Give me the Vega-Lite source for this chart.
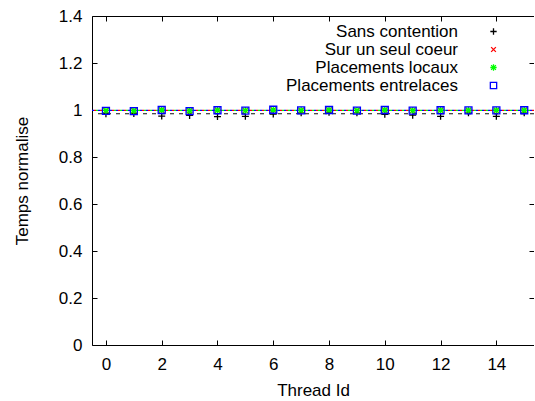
{
  "$schema": "https://vega.github.io/schema/vega-lite/v6.json",
  "width": 442,
  "height": 329,
  "autosize": {"type": "none"},
  "padding": {"left": 92, "top": 16, "right": 0, "bottom": 56},
  "background": "white",
  "config": {
    "font": "Liberation Sans",
    "view": {"stroke": "black", "strokeWidth": 1},
    "axis": {
      "grid": false,
      "domain": false,
      "tickColor": "black",
      "tickSize": -5,
      "tickWidth": 1,
      "labelColor": "black",
      "labelFontSize": 17,
      "titleFontSize": 17,
      "titleFontWeight": "normal",
      "titleColor": "black"
    },
    "legend": {
      "labelFontSize": 17,
      "labelColor": "black",
      "labelAlign": "right",
      "labelOffset": -44,
      "labelLimit": 400,
      "rowPadding": 0,
      "symbolSize": 40,
      "symbolStrokeWidth": 1.3
    }
  },
  "datasets": {
    "pts": [
      {"t": 0, "serie": "Sans contention", "v": 0.984},
      {"t": 1, "serie": "Sans contention", "v": 0.985},
      {"t": 2, "serie": "Sans contention", "v": 0.974},
      {"t": 3, "serie": "Sans contention", "v": 0.977},
      {"t": 4, "serie": "Sans contention", "v": 0.972},
      {"t": 5, "serie": "Sans contention", "v": 0.973},
      {"t": 6, "serie": "Sans contention", "v": 0.983},
      {"t": 7, "serie": "Sans contention", "v": 0.988},
      {"t": 8, "serie": "Sans contention", "v": 0.99},
      {"t": 9, "serie": "Sans contention", "v": 0.988},
      {"t": 10, "serie": "Sans contention", "v": 0.982},
      {"t": 11, "serie": "Sans contention", "v": 0.978},
      {"t": 12, "serie": "Sans contention", "v": 0.973},
      {"t": 13, "serie": "Sans contention", "v": 0.988},
      {"t": 14, "serie": "Sans contention", "v": 0.973},
      {"t": 15, "serie": "Sans contention", "v": 0.988},
      {"t": 0, "serie": "Sur un seul coeur", "v": 0.998},
      {"t": 1, "serie": "Sur un seul coeur", "v": 0.997},
      {"t": 2, "serie": "Sur un seul coeur", "v": 0.999},
      {"t": 3, "serie": "Sur un seul coeur", "v": 0.997},
      {"t": 4, "serie": "Sur un seul coeur", "v": 0.999},
      {"t": 5, "serie": "Sur un seul coeur", "v": 0.998},
      {"t": 6, "serie": "Sur un seul coeur", "v": 1.0},
      {"t": 7, "serie": "Sur un seul coeur", "v": 0.998},
      {"t": 8, "serie": "Sur un seul coeur", "v": 0.999},
      {"t": 9, "serie": "Sur un seul coeur", "v": 0.998},
      {"t": 10, "serie": "Sur un seul coeur", "v": 0.999},
      {"t": 11, "serie": "Sur un seul coeur", "v": 0.998},
      {"t": 12, "serie": "Sur un seul coeur", "v": 0.999},
      {"t": 13, "serie": "Sur un seul coeur", "v": 0.998},
      {"t": 14, "serie": "Sur un seul coeur", "v": 0.998},
      {"t": 15, "serie": "Sur un seul coeur", "v": 0.999},
      {"t": 0, "serie": "Placements locaux", "v": 0.998},
      {"t": 1, "serie": "Placements locaux", "v": 0.997},
      {"t": 2, "serie": "Placements locaux", "v": 1.0},
      {"t": 3, "serie": "Placements locaux", "v": 0.997},
      {"t": 4, "serie": "Placements locaux", "v": 0.999},
      {"t": 5, "serie": "Placements locaux", "v": 0.998},
      {"t": 6, "serie": "Placements locaux", "v": 1.0},
      {"t": 7, "serie": "Placements locaux", "v": 0.999},
      {"t": 8, "serie": "Placements locaux", "v": 1.0},
      {"t": 9, "serie": "Placements locaux", "v": 0.998},
      {"t": 10, "serie": "Placements locaux", "v": 1.0},
      {"t": 11, "serie": "Placements locaux", "v": 0.998},
      {"t": 12, "serie": "Placements locaux", "v": 0.999},
      {"t": 13, "serie": "Placements locaux", "v": 0.999},
      {"t": 14, "serie": "Placements locaux", "v": 0.999},
      {"t": 15, "serie": "Placements locaux", "v": 0.999},
      {"t": 0, "serie": "Placements entrelaces", "v": 0.996},
      {"t": 1, "serie": "Placements entrelaces", "v": 0.995},
      {"t": 2, "serie": "Placements entrelaces", "v": 1.0},
      {"t": 3, "serie": "Placements entrelaces", "v": 0.995},
      {"t": 4, "serie": "Placements entrelaces", "v": 0.999},
      {"t": 5, "serie": "Placements entrelaces", "v": 0.997},
      {"t": 6, "serie": "Placements entrelaces", "v": 1.001},
      {"t": 7, "serie": "Placements entrelaces", "v": 0.998},
      {"t": 8, "serie": "Placements entrelaces", "v": 1.0},
      {"t": 9, "serie": "Placements entrelaces", "v": 0.997},
      {"t": 10, "serie": "Placements entrelaces", "v": 1.0},
      {"t": 11, "serie": "Placements entrelaces", "v": 0.997},
      {"t": 12, "serie": "Placements entrelaces", "v": 0.999},
      {"t": 13, "serie": "Placements entrelaces", "v": 0.998},
      {"t": 14, "serie": "Placements entrelaces", "v": 0.998},
      {"t": 15, "serie": "Placements entrelaces", "v": 0.999}
    ],
    "means": [
      {"serie": "Sans contention", "m": 0.984},
      {"serie": "Sur un seul coeur", "m": 0.998},
      {"serie": "Placements locaux", "m": 0.998},
      {"serie": "Placements entrelaces", "m": 0.998}
    ]
  },
  "resolve": {"axis": {"x": "independent", "y": "independent"}},
  "layer": [
    {
      "data": {"name": "means"},
      "transform": [{"filter": "datum.serie === 'Sans contention'"}],
      "mark": {"type": "rule", "strokeWidth": 1.2, "color": "#111111", "strokeDash": [4, 5]},
      "encoding": {"y": {"field": "m", "type": "quantitative", "axis": null}}
    },
    {
      "data": {"name": "means"},
      "transform": [{"filter": "datum.serie === 'Sur un seul coeur'"}],
      "mark": {"type": "rule", "strokeWidth": 1.2, "color": "#ff0000", "strokeDash": [2, 4]},
      "encoding": {"y": {"field": "m", "type": "quantitative", "axis": null}}
    },
    {
      "data": {"name": "means"},
      "transform": [{"filter": "datum.serie === 'Placements locaux'"}],
      "mark": {"type": "rule", "strokeWidth": 1.2, "color": "#00ff00", "strokeDash": [2, 4], "strokeDashOffset": 2},
      "encoding": {"y": {"field": "m", "type": "quantitative", "axis": null}}
    },
    {
      "data": {"name": "means"},
      "transform": [{"filter": "datum.serie === 'Placements entrelaces'"}],
      "mark": {"type": "rule", "strokeWidth": 1.2, "color": "#0000ff", "strokeDash": [2, 4], "strokeDashOffset": 4},
      "encoding": {"y": {"field": "m", "type": "quantitative", "axis": null}}
    },
    {
      "data": {"name": "pts"},
      "mark": {"type": "point", "filled": false, "strokeWidth": 1.3, "size": 49, "opacity": 1},
      "encoding": {
        "x": {
          "field": "t", "type": "quantitative",
          "scale": {"domain": [-0.5, 15.35], "nice": false, "zero": false},
          "axis": {"title": "Thread Id", "values": [0, 2, 4, 6, 8, 10, 12, 14], "labelPadding": 16, "titlePadding": 10}
        },
        "y": {
          "field": "v", "type": "quantitative",
          "scale": {"domain": [0, 1.4], "nice": false, "zero": true},
          "axis": {"title": "Temps normalise", "values": [0, 0.2, 0.4, 0.6, 0.8, 1, 1.2, 1.4], "format": "~g", "labelPadding": 15, "titlePadding": 27}
        },
        "color": {
          "field": "serie", "type": "nominal",
          "scale": {
            "domain": ["Sans contention", "Sur un seul coeur", "Placements locaux", "Placements entrelaces"],
            "range": ["#000000", "#ff0000", "#00ff00", "#0000ff"]
          },
          "legend": {"title": null, "orient": "none", "legendX": 393, "legendY": 7}
        },
        "shape": {
          "field": "serie", "type": "nominal",
          "scale": {
            "domain": ["Sans contention", "Sur un seul coeur", "Placements locaux", "Placements entrelaces"],
            "range": [
              "M-1,0H1M0,-1V1",
              "M-0.75,-0.75L0.75,0.75M-0.75,0.75L0.75,-0.75",
              "M-1,0H1M0,-1V1M-0.75,-0.75L0.75,0.75M-0.75,0.75L0.75,-0.75",
              "square"
            ]
          },
          "legend": {"title": null, "orient": "none", "legendX": 393, "legendY": 7}
        }
      }
    },
    {
      "data": {"name": "pts"},
      "mark": {"type": "point", "opacity": 0},
      "encoding": {
        "x": {"field": "t", "type": "quantitative", "axis": {"orient": "top", "labels": false, "title": null, "values": [0, 2, 4, 6, 8, 10, 12, 14]}},
        "y": {"field": "v", "type": "quantitative", "axis": {"orient": "right", "labels": false, "title": null, "values": [0, 0.2, 0.4, 0.6, 0.8, 1, 1.2, 1.4]}}
      }
    }
  ]
}
